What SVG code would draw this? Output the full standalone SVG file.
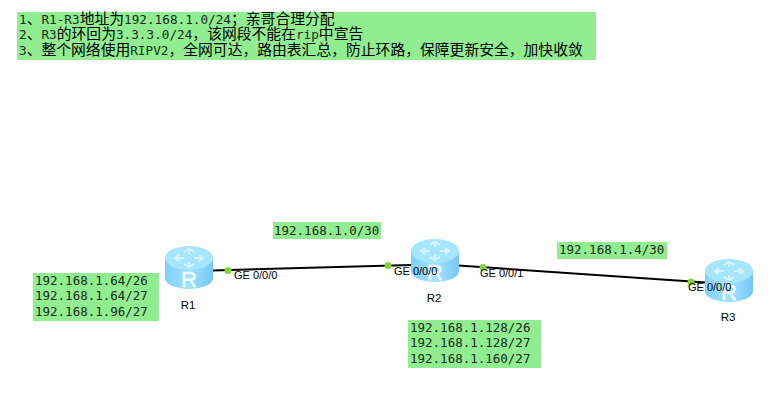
<svg xmlns="http://www.w3.org/2000/svg" width="774" height="410" viewBox="0 0 774 410">
<style>
.note{fill:#90ee90}
.m{font-family:"DejaVu Sans Mono","Liberation Mono",monospace;font-size:12.5px;fill:#1a2a1a}
.c{font-family:"DejaVu Sans Mono","Noto Sans CJK SC",monospace;font-size:12.7px;fill:#1a2a1a}
.c tspan{font-family:"Noto Sans CJK SC",sans-serif;font-size:14.8px;fill:#000}
.l{font-family:"Liberation Sans",Arial,sans-serif;font-size:11px;fill:#000}
.n{font-family:"Liberation Sans",Arial,sans-serif;font-size:11.5px;fill:#000;text-anchor:middle}
.link{stroke:#000;stroke-width:2;fill:none}
.dot{fill:#84d232}
.side{fill:url(#g)}
.top{fill:#a6e6fd}
.g{fill:none;stroke:#d6f4ff;stroke-width:2}
.r{font-family:"Liberation Sans",Arial,sans-serif;font-size:22px;fill:#f2fbff;stroke:#f2fbff;stroke-width:.5;text-anchor:middle}
</style>
<defs>
<linearGradient id="g" x1="0" x2="1" y1="0" y2="0">
<stop offset="0" stop-color="#7fd0fb"/><stop offset=".5" stop-color="#a4e2fd"/><stop offset="1" stop-color="#74c8f8"/>
</linearGradient>
<g id="router">
<path class="side" d="M-24-10V10C-24 17-11 21 0 21S24 17 24 10V-10Z"/>
<ellipse class="top" cx="0" cy="-10" rx="24" ry="12"/>
<path class="g" d="M-13-10H-5M5-10H13M0-18V-14M0-6V-2M-5-16L0-19L5-16M-5-4L0-1L5-4M-10-13L-14-10L-10-7M10-13L14-10L10-7"/>
<text class="r" x="0" y="19">R</text>
</g>
</defs>
<g id="connectors">
<path class="link" d="M213 270.500L411 265"/>
<path class="link" d="M458 265.500L706 282.500"/>
<circle class="dot" cx="228" cy="270.500" r="3.500"/>
<circle class="dot" cx="388" cy="265.500" r="3.500"/>
<circle class="dot" cx="483" cy="267.500" r="3.500"/>
<circle class="dot" cx="691" cy="282" r="3.500"/>
</g>
<g id="requirements">
<rect class="note" x="17" y="12" width="579" height="48"/>
<text class="c" x="19" y="23.500">1<tspan>、</tspan>R1-R3<tspan>地址为</tspan>192.168.1.0/24<tspan>；亲哥合理分配</tspan></text>
<text class="c" x="19" y="39">2<tspan>、</tspan>R3<tspan>的环回为</tspan>3.3.3.0/24<tspan>，该网段不能在</tspan>rip<tspan>中宣告</tspan></text>
<text class="c" x="19" y="54.500">3<tspan>、整个网络使用</tspan>RIPV2<tspan>，全网可达，路由表汇总，防止环路，保障更新安全，加快收敛</tspan></text>
</g>
<g id="R1"><use href="#router" x="189" y="268"/><text class="n" x="188" y="309">R1</text><text class="l" x="234" y="279">GE 0/0/0</text></g>
<g id="R2"><use href="#router" x="435" y="261"/><text class="n" x="434" y="302">R2</text><text class="l" x="394" y="275">GE 0/0/0</text><text class="l" x="480" y="277">GE 0/0/1</text></g>
<g id="R3"><use href="#router" x="729" y="281"/><text class="n" x="728" y="321">R3</text><text class="l" x="688" y="291">GE 0/0/0</text></g>
<g id="net-12"><rect class="note" x="273" y="222" width="108" height="17"/><text class="m" x="274" y="235">192.168.1.0/30</text></g>
<g id="net-23"><rect class="note" x="557" y="242" width="110" height="17"/><text class="m" x="559" y="254">192.168.1.4/30</text></g>
<g id="net-r1"><rect class="note" x="33" y="273" width="126" height="48"/><text class="m" x="35" y="285">192.168.1.64/26</text><text class="m" x="35" y="300">192.168.1.64/27</text><text class="m" x="35" y="316">192.168.1.96/27</text></g>
<g id="net-r2"><rect class="note" x="408" y="320" width="133" height="48"/><text class="m" x="410" y="332">192.168.1.128/26</text><text class="m" x="410" y="347">192.168.1.128/27</text><text class="m" x="410" y="363">192.168.1.160/27</text></g>
</svg>
